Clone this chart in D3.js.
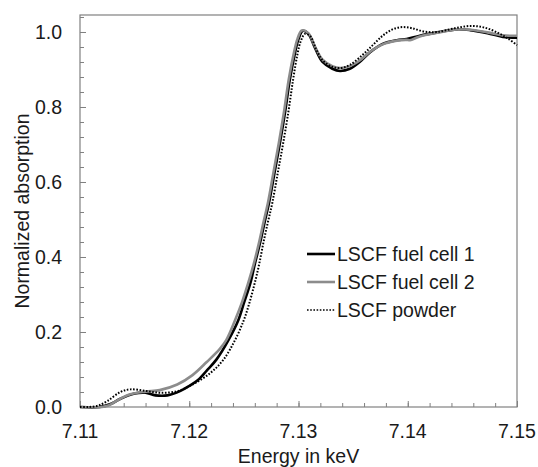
<!DOCTYPE html>
<html><head><meta charset="utf-8">
<script src="https://cdn.jsdelivr.net/npm/d3@7"></script>
<style>body{margin:0;background:#fff}svg{display:block}</style>
</head><body>
<script>
// Data (energy keV, normalized absorption)
const seriesNames = ["LSCF fuel cell 1", "LSCF fuel cell 2", "LSCF powder"];
const cell1 = [
[7.1100,0.000],[7.1118,0.000],[7.1128,0.008],[7.1137,0.022],[7.1150,0.036],[7.1160,0.038],[7.1169,0.031],
[7.1180,0.031],[7.1192,0.043],[7.1200,0.056],[7.1208,0.072],[7.1216,0.097],[7.1225,0.127],[7.1236,0.179],
[7.1245,0.232],[7.1250,0.277],[7.1256,0.331],[7.1260,0.381],[7.1265,0.440],[7.1269,0.493],[7.1273,0.544],
[7.1278,0.624],[7.1283,0.704],[7.1288,0.792],[7.1292,0.872],[7.1297,0.947],[7.1300,0.981],[7.1304,1.003],
[7.1309,0.995],[7.1315,0.958],[7.1322,0.920],[7.1331,0.902],[7.1338,0.896],[7.1347,0.902],[7.1356,0.920],
[7.1365,0.945],[7.1377,0.968],[7.1390,0.978],[7.1399,0.981],[7.1411,0.990],[7.1427,0.999],[7.1445,1.007],
[7.1457,1.005],[7.1473,0.997],[7.1487,0.987],[7.1500,0.985]
];
const cell2 = [
[7.1100,0.000],[7.1120,0.000],[7.1126,0.004],[7.1137,0.022],[7.1146,0.034],[7.1160,0.041],[7.1173,0.045],
[7.1189,0.060],[7.1203,0.085],[7.1216,0.120],[7.1228,0.155],[7.1234,0.179],[7.1242,0.232],[7.1248,0.277],
[7.1254,0.331],[7.1259,0.381],[7.1264,0.440],[7.1268,0.493],[7.1272,0.544],[7.1277,0.624],[7.1282,0.704],
[7.1287,0.792],[7.1291,0.872],[7.1296,0.947],[7.1299,0.981],[7.1303,1.004],[7.1309,0.997],[7.1315,0.962],
[7.1322,0.926],[7.1331,0.909],[7.1338,0.904],[7.1347,0.909],[7.1356,0.924],[7.1365,0.946],[7.1377,0.967],
[7.1390,0.977],[7.1399,0.979],[7.1402,0.978],[7.1411,0.988],[7.1427,0.998],[7.1445,1.007],[7.1457,1.006],
[7.1473,0.999],[7.1487,0.991],[7.1500,0.990]
];
const powder = [
[7.1100,0.000],[7.1108,0.000],[7.1117,0.004],[7.1125,0.016],[7.1137,0.040],[7.1146,0.047],[7.1160,0.043],
[7.1173,0.038],[7.1189,0.042],[7.1203,0.060],[7.1219,0.090],[7.1231,0.125],[7.1242,0.179],[7.1250,0.232],
[7.1255,0.277],[7.1260,0.331],[7.1264,0.381],[7.1268,0.440],[7.1272,0.493],[7.1276,0.544],[7.1281,0.624],
[7.1286,0.704],[7.1291,0.792],[7.1295,0.872],[7.1299,0.940],[7.1302,0.975],[7.1306,0.995],[7.1311,0.988],
[7.1316,0.955],[7.1322,0.925],[7.1331,0.907],[7.1338,0.904],[7.1347,0.912],[7.1359,0.940],[7.1368,0.965],
[7.1377,0.990],[7.1386,1.007],[7.1395,1.013],[7.1404,1.010],[7.1415,1.001],[7.1427,1.000],[7.1443,1.010],
[7.1457,1.016],[7.1470,1.012],[7.1483,0.997],[7.1492,0.982],[7.1500,0.965]
];
const xTickLabels = ["7.11","7.12","7.13","7.14","7.15"];
const yTickLabels = ["0.0","0.2","0.4","0.6","0.8","1.0"];

const W = 538, H = 467;
const M = {left:80, right:517, top:15, bottom:407};
const svg = d3.select("body").append("svg").attr("width",W).attr("height",H);
const x = d3.scaleLinear().domain([7.11,7.15]).range([M.left,M.right]);
const y = d3.scaleLinear().domain([0,1.0453]).range([M.bottom,M.top]);
const axisColor = "#808080";
const font = "'Liberation Sans', Arial, sans-serif";
const fs = 19.5;

const xMinor = d3.range(0,21).map(i=>7.11+i*0.002);
const yMinor = d3.range(0,27).map(i=>i*0.04);

const gx = svg.append("g").attr("transform",`translate(0,${M.bottom})`);
gx.call(d3.axisBottom(x).tickValues(xMinor).tickSize(-4).tickFormat(""));
gx.append("g").call(d3.axisBottom(x).tickValues(xTickLabels.map(Number)).tickSize(-6).tickFormat(""));
gx.selectAll("path").remove();
gx.selectAll("line").attr("stroke",axisColor);
gx.selectAll(".lbl").data(xTickLabels).enter().append("text")
  .attr("x",d=>x(+d)).attr("y",31).attr("text-anchor","middle")
  .attr("font-family",font).attr("font-size",fs).attr("fill","#1a1a1a").text(d=>d);

const gy = svg.append("g").attr("transform",`translate(${M.left},0)`);
gy.call(d3.axisLeft(y).tickValues(yMinor).tickSize(-4).tickFormat(""));
gy.append("g").call(d3.axisLeft(y).tickValues(yTickLabels.map(Number)).tickSize(-6).tickFormat(""));
gy.selectAll("path").remove();
gy.selectAll("line").attr("stroke",axisColor);
gy.selectAll(".lbl").data(yTickLabels).enter().append("text")
  .attr("x",-18).attr("y",d=>y(+d)).attr("dy","0.35em").attr("text-anchor","end")
  .attr("font-family",font).attr("font-size",fs).attr("fill","#1a1a1a").text(d=>d);

svg.append("rect").attr("x",M.left).attr("y",M.top).attr("width",M.right-M.left).attr("height",M.bottom-M.top)
  .attr("fill","none").attr("stroke",axisColor).attr("stroke-width",1.2);

const line = d3.line().x(d=>x(d[0])).y(d=>y(d[1])).curve(d3.curveCatmullRom.alpha(0.5));
svg.append("path").datum(cell1).attr("d",line).attr("fill","none").attr("stroke","#000").attr("stroke-width",2.6);
svg.append("path").datum(cell2).attr("d",line).attr("fill","none").attr("stroke","#8c8c8c").attr("stroke-width",2.6);
svg.append("path").datum(powder).attr("d",line).attr("fill","none").attr("stroke","#000").attr("stroke-width",2)
  .attr("stroke-dasharray","1.6,1.6");

svg.append("text").attr("x",(M.left+M.right)/2).attr("y",463).attr("text-anchor","middle")
  .attr("font-family",font).attr("font-size",fs).attr("fill","#1a1a1a").text("Energy in keV");
svg.append("text").attr("transform",`translate(29,${(M.top+M.bottom)/2}) rotate(-90)`).attr("text-anchor","middle")
  .attr("font-family",font).attr("font-size",fs).attr("fill","#1a1a1a").text("Normalized absorption");

const styles = [
  {stroke:"#000",w:2.6,dash:null},
  {stroke:"#8c8c8c",w:2.6,dash:null},
  {stroke:"#000",w:1.6,dash:"1.6,1.6"}
];
const lg = svg.append("g");
seriesNames.forEach((n,i)=>{
  const yy = 254 + i*28;
  const l = lg.append("line").attr("x1",307).attr("x2",335).attr("y1",yy).attr("y2",yy)
    .attr("stroke",styles[i].stroke).attr("stroke-width",styles[i].w);
  if(styles[i].dash) l.attr("stroke-dasharray",styles[i].dash);
  lg.append("text").attr("x",337).attr("y",yy).attr("dy","0.35em")
    .attr("font-family",font).attr("font-size",fs).attr("fill","#1a1a1a").text(n);
});
</script>
</body></html>
